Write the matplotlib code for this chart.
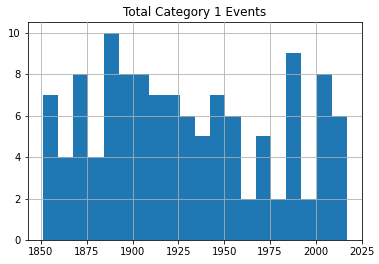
import numpy as np
import matplotlib

matplotlib.use("Agg")
import matplotlib.pyplot as plt

# counts per bin (20 equal bins between first and last year)
FIRST_YEAR = 1851
LAST_YEAR = 2017
COUNTS = [7, 4, 8, 4, 10, 8, 8, 7, 7, 6, 5, 7, 6, 2, 5, 2, 9, 2, 8, 6]

plt.rcParams.update({"font.family": "DejaVu Sans", "font.size": 10})

fig = plt.figure(figsize=(379 / 72, 264 / 72), dpi=72)
ax = fig.add_axes([27.5 / 379, 1 - 240 / 264, (362.3 - 27.5) / 379, (240 - 22.3) / 264])

edges = np.linspace(FIRST_YEAR, LAST_YEAR, len(COUNTS) + 1)
ax.hist(edges[:-1], bins=edges, weights=COUNTS, color="#1f77b4")
ax.grid(True, color="#b0b0b0", linewidth=0.8)
ax.set_axisbelow(False)
ax.set_title("Total Category 1 Events", fontsize=12)
ax.set_xticks([1850, 1875, 1900, 1925, 1950, 1975, 2000, 2025])

fig.savefig("out.png", dpi=72)
